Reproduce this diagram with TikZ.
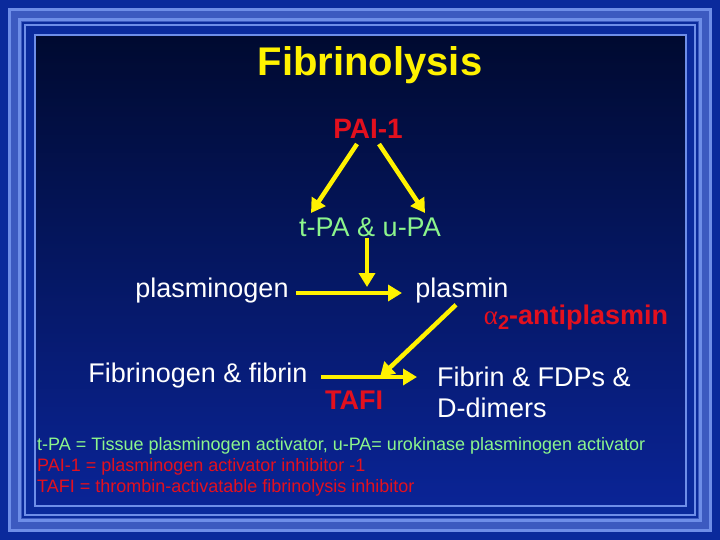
\documentclass[tikz,border=0pt]{standalone}
\usepackage{fontspec}
\setmainfont{Liberation Sans}
\newfontfamily\greekserif{Liberation Serif}
\usetikzlibrary{arrows.meta,positioning}
\definecolor{bgblue}{HTML}{0A2A9C}
\definecolor{bandblue}{HTML}{3C5AC0}
\definecolor{lineblue}{HTML}{6E8EE8}
\definecolor{paneltop}{HTML}{000A30}
\definecolor{panelbot}{HTML}{0A2496}
\definecolor{txtred}{HTML}{E3101E}
\definecolor{txtgreen}{HTML}{8CF58C}
\tikzset{
  x=1pt, y=-1pt,
  label/.style={text=white, font=\fontsize{27}{31}\selectfont, inner sep=1pt},
  inhib/.style={text=txtred, font=\bfseries\fontsize{27}{31}\selectfont, inner sep=1pt},
  note/.style={anchor=west, font=\fontsize{18}{20}\selectfont, inner sep=0pt},
  flow/.style={draw=yellow, line width=4.5pt, -{Triangle[length=14pt,width=16pt]}},
}
\begin{document}
\begin{tikzpicture}
% frame
\fill[bgblue] (0,0) rectangle (720,540);
\fill[bandblue] (9,9) rectangle (711,531);
\draw[lineblue, line width=2.5pt] (9.5,9.5) rectangle (710.5,530.5);
\draw[lineblue, line width=2.5pt] (19.5,19.5) rectangle (700.5,520.5);
\fill[bgblue] (22,22) rectangle (698,518);
\draw[lineblue, line width=2.5pt] (25,25) rectangle (695,515);
\shade[top color=paneltop, bottom color=panelbot, draw=lineblue, line width=2pt] (35,35) rectangle (686,506);
\useasboundingbox (0,0) rectangle (720,540);

% texts
\node[text=yellow, font=\bfseries\fontsize{40}{46}\selectfont] (title) at (370,65) {Fibrinolysis};
\node[inhib, font=\bfseries\fontsize{28}{32}\selectfont] (pai) at (368,129) {PAI-1};
\node[label, text=txtgreen] (tpa) at (370,227) {t-PA \& u-PA};
\node[label] (plg) at (212,291) {plasminogen};
\node[label] (pln) at (462,291) {plasmin};
\node[inhib] (anti) at (576,318) {{\greekserif\mdseries α}\raisebox{-5pt}{\fontsize{20}{22}\selectfont 2}-antiplasmin};
\node[label] (fbg) at (198,376) {Fibrinogen \& fibrin};
\node[inhib] (tafi) at (354,400) {TAFI};
\node[label, align=left, anchor=west, font=\fontsize{27}{31}\selectfont] (fdp) at (436,392) {Fibrin \& FDPs \&\\D-dimers};

% arrows
\coordinate (joint) at (380,377);
\draw[flow] (357,144) -- (311,213);
\draw[flow] (379,144) -- (425,213);
\draw[flow] (tpa.south) ++(-3,0) -- (367,287);
\draw[flow] (plg.east) ++(6,2) -- (402,293);
\draw[flow] (pln.south) ++(-6,0) -- (joint);
\draw[flow] (fbg.east) ++(12,1) -- (417,377);

% footnotes
\node[note, text=txtgreen] (n1) at (37,446) {t-PA = Tissue plasminogen activator, u-PA= urokinase plasminogen activator};
\node[note, text=txtred] (n2) at (37,467) {PAI-1 = plasminogen activator inhibitor -1};
\node[note, text=txtred] (n3) at (37,488) {TAFI = thrombin-activatable fibrinolysis inhibitor};
\end{tikzpicture}
\end{document}
